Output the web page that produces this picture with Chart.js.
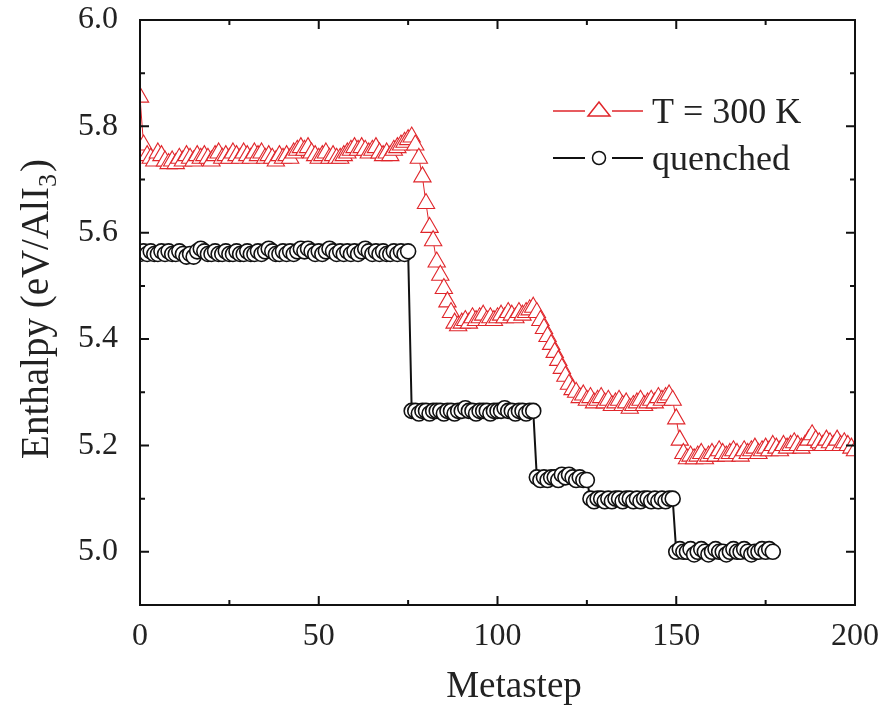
<!DOCTYPE html>
<html>
<head>
<meta charset="utf-8">
<title>Enthalpy vs metastep</title>
<script src="https://cdn.jsdelivr.net/npm/chart.js@4.4.0/dist/chart.umd.min.js"></script>
<style>
  body { margin: 0; background: #fff; }
  #wrap { width: 888px; height: 709px; }
</style>
</head>
<body>
<div id="wrap"><canvas id="myChart" width="888" height="709"></canvas></div>
<script>
// enthalpy per metastep (metastep = position in the array)
let hotValues = [
  5.855, 5.765, 5.745, 5.74, 5.735, 5.75, 5.745, 5.735, 5.73, 5.735,
  5.73, 5.74, 5.735, 5.745, 5.74, 5.735, 5.745, 5.74, 5.745, 5.74,
  5.735, 5.745, 5.75, 5.74, 5.745, 5.74, 5.75, 5.745, 5.74, 5.75,
  5.745, 5.74, 5.75, 5.745, 5.75, 5.74, 5.745, 5.74, 5.735, 5.745,
  5.74, 5.745, 5.74, 5.75, 5.755, 5.76, 5.755, 5.76, 5.75, 5.745,
  5.74, 5.745, 5.75, 5.74, 5.745, 5.74, 5.74, 5.745, 5.75, 5.755,
  5.76, 5.755, 5.76, 5.755, 5.75, 5.755, 5.76, 5.75, 5.745, 5.75,
  5.745, 5.755, 5.76, 5.765, 5.77, 5.775, 5.78, 5.765, 5.74, 5.705,
  5.655, 5.61, 5.585, 5.545, 5.52, 5.495, 5.47, 5.45, 5.43, 5.425,
  5.43, 5.435, 5.43, 5.44, 5.435, 5.44, 5.445, 5.435, 5.44, 5.435,
  5.44, 5.445, 5.44, 5.45, 5.445, 5.44, 5.45, 5.445, 5.45, 5.455,
  5.46, 5.45, 5.435, 5.42, 5.405, 5.39, 5.375, 5.36, 5.345, 5.33,
  5.315, 5.305, 5.3, 5.29, 5.295, 5.285, 5.29, 5.28, 5.285, 5.29,
  5.28, 5.285, 5.275, 5.28, 5.285, 5.275, 5.28, 5.27, 5.275, 5.28,
  5.285, 5.275, 5.28, 5.285, 5.28, 5.29, 5.285, 5.29, 5.295, 5.285,
  5.25, 5.21, 5.185, 5.175, 5.18, 5.175, 5.18, 5.185, 5.175, 5.18,
  5.185, 5.18, 5.19, 5.185, 5.18, 5.185, 5.19, 5.185, 5.18, 5.19,
  5.185, 5.19, 5.195, 5.185, 5.19, 5.195, 5.19, 5.2, 5.195, 5.19,
  5.2, 5.195, 5.2, 5.205, 5.2, 5.195, 5.2, 5.21, 5.22, 5.21,
  5.205, 5.2, 5.21, 5.205, 5.2, 5.21, 5.2, 5.205, 5.2, 5.195,
  5.19
];
let quenchedValues = [
  5.56, 5.565, 5.56, 5.565, 5.56, 5.56, 5.565, 5.56, 5.565, 5.56,
  5.56, 5.565, 5.56, 5.555, 5.56, 5.555, 5.565, 5.57, 5.565, 5.56,
  5.56, 5.565, 5.56, 5.56, 5.565, 5.56, 5.56, 5.565, 5.56, 5.56,
  5.565, 5.56, 5.56, 5.565, 5.56, 5.565, 5.57, 5.565, 5.56, 5.56,
  5.565, 5.56, 5.565, 5.56, 5.565, 5.57, 5.565, 5.57, 5.565, 5.56,
  5.565, 5.56, 5.565, 5.57, 5.565, 5.56, 5.565, 5.56, 5.565, 5.56,
  5.565, 5.56, 5.565, 5.57, 5.565, 5.56, 5.565, 5.56, 5.565, 5.56,
  5.56, 5.565, 5.56, 5.565, 5.56, 5.565,
  5.265, 5.265, 5.26, 5.265, 5.265, 5.26, 5.265, 5.265, 5.265, 5.26,
  5.265, 5.265, 5.26, 5.265, 5.265, 5.27, 5.265, 5.265, 5.26, 5.265,
  5.265, 5.265, 5.26, 5.265, 5.265, 5.265, 5.27, 5.265, 5.265, 5.26,
  5.265, 5.265, 5.26, 5.265, 5.265,
  5.14, 5.135, 5.14, 5.135, 5.14, 5.14, 5.135, 5.145, 5.14, 5.145,
  5.14, 5.135, 5.14, 5.135, 5.135,
  5.1, 5.095, 5.1, 5.1, 5.095, 5.1, 5.095, 5.1, 5.1, 5.095,
  5.1, 5.1, 5.095, 5.1, 5.095, 5.1, 5.1, 5.095, 5.1, 5.095,
  5.1, 5.095, 5.1, 5.1,
  5.0, 5.005, 5.0, 5.0, 5.005, 4.995, 5.0, 5.005, 5.0, 4.995,
  5.0, 5.005, 5.0, 5.0, 4.995, 5.0, 5.005, 5.0, 5.0, 5.005,
  5.0, 4.995, 5.0, 5.0, 5.005, 5.0, 5.005, 5.0
];
let seriesNames = ["T = 300 K", "quenched"];
let xTickValues = [0, 50, 100, 150, 200];
let yTickValues = [5.0, 5.2, 5.4, 5.6, 5.8, 6.0];

let serif = "'Liberation Serif', 'Times New Roman', serif";
let red = "#e0262b";

// box, inward ticks on all four sides, axis titles, legend
let framePlugin = {
  id: "frame",
  afterDraw(chart) {
    let ctx = chart.ctx;
    let a = chart.chartArea;
    let x = chart.scales.x;
    let y = chart.scales.y;
    ctx.save();
    ctx.strokeStyle = "#111";
    ctx.lineWidth = 2;
    ctx.strokeRect(a.left, a.top, a.right - a.left, a.bottom - a.top);
    ctx.beginPath();
    for (let v = 0; v <= 200; v += 25) {
      let px = x.getPixelForValue(v);
      let len = v % 50 === 0 ? 9 : 5;
      ctx.moveTo(px, a.bottom); ctx.lineTo(px, a.bottom - len);
      ctx.moveTo(px, a.top); ctx.lineTo(px, a.top + len);
    }
    for (let k = 49; k <= 60; k++) {
      let py = y.getPixelForValue(k / 10);
      let len = k % 2 === 0 ? 9 : 5;
      ctx.moveTo(a.left, py); ctx.lineTo(a.left + len, py);
      ctx.moveTo(a.right, py); ctx.lineTo(a.right - len, py);
    }
    ctx.stroke();

    // x axis title
    ctx.fillStyle = "#222";
    ctx.textBaseline = "alphabetic";
    ctx.textAlign = "center";
    ctx.font = "37px " + serif;
    ctx.fillText("Metastep", 514, 697);

    // y axis title with subscript
    ctx.translate(48, 310);
    ctx.rotate(-Math.PI / 2);
    ctx.textAlign = "left";
    let main = "Enthalpy (eV/AlI";
    let sub = "3";
    let tail = ")";
    ctx.font = "39px " + serif;
    let wMain = ctx.measureText(main).width;
    let wTail = ctx.measureText(tail).width;
    ctx.font = "26px " + serif;
    let wSub = ctx.measureText(sub).width;
    let start = -(wMain + wSub + wTail) / 2;
    ctx.font = "39px " + serif;
    ctx.fillText(main, start, 0);
    ctx.font = "26px " + serif;
    ctx.fillText(sub, start + wMain, 8);
    ctx.font = "39px " + serif;
    ctx.fillText(tail, start + wMain + wSub + 2, 0);
    ctx.restore();

    // legend
    ctx.save();
    ctx.textBaseline = "alphabetic";
    ctx.textAlign = "left";
    ctx.font = "36px " + serif;
    let rows = [
      { label: seriesNames[0], color: red, yy: 111, lw: 1.5 },
      { label: seriesNames[1], color: "#111", yy: 158, lw: 2 }
    ];
    rows.forEach(function(r, i) {
      ctx.strokeStyle = r.color;
      ctx.lineWidth = r.lw;
      ctx.beginPath();
      ctx.moveTo(553, r.yy); ctx.lineTo(585, r.yy);
      ctx.moveTo(612, r.yy); ctx.lineTo(643, r.yy);
      ctx.stroke();
      ctx.fillStyle = "#fff";
      ctx.lineWidth = 1.5;
      ctx.beginPath();
      if (i === 0) {
        ctx.moveTo(599, r.yy - 9);
        ctx.lineTo(610, r.yy + 5);
        ctx.lineTo(588, r.yy + 5);
        ctx.closePath();
      } else {
        ctx.arc(599, r.yy, 6.5, 0, Math.PI * 2);
      }
      ctx.fill();
      ctx.stroke();
      ctx.fillStyle = "#222";
      ctx.fillText(r.label, 652, r.yy + 12);
    });
    ctx.restore();
  }
};

let canvasEl = document.getElementById("myChart").getContext("2d");
let myChart = new Chart(canvasEl, {
  type: "scatter",
  data: {
    datasets: [{
      label: seriesNames[0],
      data: hotValues.map(function(v, i) { return { x: i, y: v }; }),
      showLine: true,
      borderColor: red,
      borderWidth: 1,
      pointStyle: "triangle",
      pointRadius: 10,
      pointBorderWidth: 1.1,
      pointBorderColor: red,
      pointBackgroundColor: "#fff"
    }, {
      label: seriesNames[1],
      data: quenchedValues.map(function(v, i) { return { x: i, y: v }; }),
      showLine: true,
      borderColor: "#111",
      borderWidth: 2,
      pointStyle: "circle",
      pointRadius: 7.5,
      pointBorderWidth: 1.6,
      pointBorderColor: "#111",
      pointBackgroundColor: "#fff"
    }]
  },
  options: {
    responsive: false,
    animation: false,
    devicePixelRatio: 1,
    layout: { padding: { top: 20, right: 33, left: 0, bottom: 0 } },
    plugins: {
      legend: { display: false },
      tooltip: { enabled: false }
    },
    scales: {
      x: {
        type: "linear",
        min: 0,
        max: 200,
        afterBuildTicks: function(s) { s.ticks = xTickValues.map(function(v) { return { value: v }; }); },
        afterFit: function(s) { s.height = 104; s.paddingLeft = 0; s.paddingRight = 0; },
        grid: { display: false, drawTicks: false },
        border: { display: false },
        ticks: { font: { family: serif, size: 32 }, color: "#222", padding: 12, maxRotation: 0, autoSkip: false }
      },
      y: {
        min: 4.9,
        max: 6.0,
        afterBuildTicks: function(s) { s.ticks = yTickValues.map(function(v) { return { value: v }; }); },
        afterFit: function(s) { s.width = 140; s.paddingTop = 0; s.paddingBottom = 0; },
        grid: { display: false, drawTicks: false },
        border: { display: false },
        ticks: {
          font: { family: serif, size: 32 },
          color: "#222",
          padding: 22,
          autoSkip: false,
          callback: function(v) { return Number(v).toFixed(1); }
        }
      }
    }
  },
  plugins: [framePlugin]
});
</script>
</body>
</html>
